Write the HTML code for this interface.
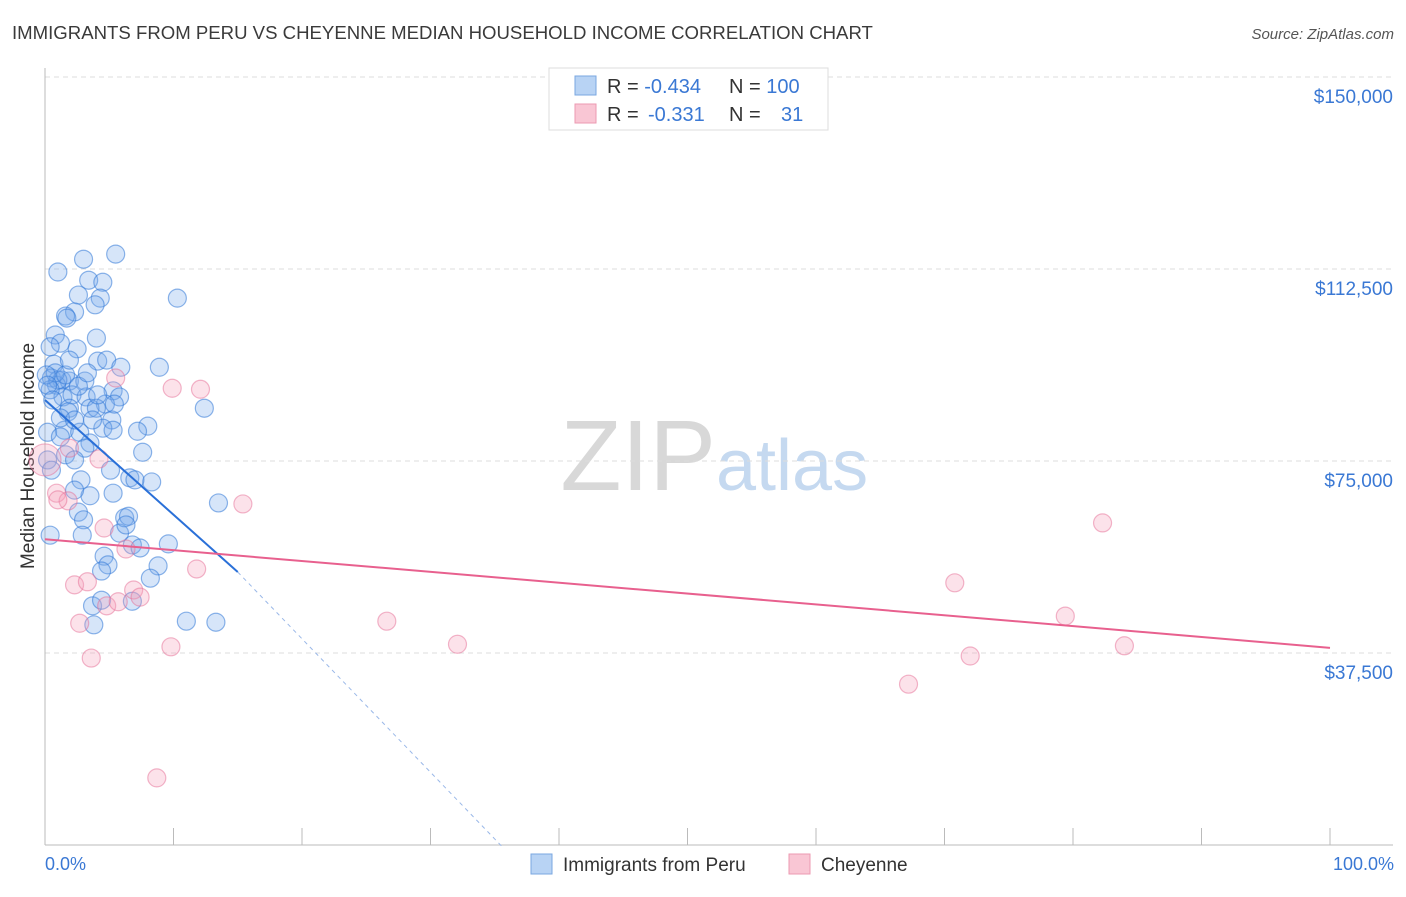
<!DOCTYPE html>
<html><head><meta charset="utf-8"><style>
body{margin:0;background:#fff;font-family:"Liberation Sans",sans-serif}
svg text{font-family:"Liberation Sans",sans-serif}
</style></head><body>
<svg id="c" width="1406" height="892">
<text x="12" y="39" font-size="18.6" fill="#3a3a3a">IMMIGRANTS FROM PERU VS CHEYENNE MEDIAN HOUSEHOLD INCOME CORRELATION CHART</text>
<text x="1394" y="39" font-size="15" fill="#555" text-anchor="end" font-style="italic">Source: ZipAtlas.com</text>
<text x="716" y="490" font-size="100" fill="#d8d8d8" text-anchor="end" font-family="Liberation Serif,serif">ZIP</text>
<text x="716" y="490" font-size="72" fill="#c5d9f0">atlas</text>
<text x="34" y="456" font-size="19" fill="#333" text-anchor="middle" transform="rotate(-90 34 456)">Median Household Income</text>
<g id="grid"></g><g id="pts"></g><g id="lines"></g>
<g>
<rect x="549" y="68" width="279" height="62" fill="#fff" stroke="#ddd"/>
<rect x="575" y="76" width="21" height="19" fill="#b8d3f4" stroke="#7aa7e0"/>
<rect x="575" y="104" width="21" height="19" fill="#f9c6d4" stroke="#ec9ab2"/>
<text x="607" y="93" font-size="20" fill="#333">R = <tspan fill="#3a78d4">-0.434</tspan><tspan x="729">N = </tspan><tspan fill="#3a78d4">100</tspan></text>
<text x="607" y="121" font-size="20" fill="#333">R = <tspan x="648" fill="#3a78d4">-0.331</tspan><tspan x="729">N = </tspan><tspan x="781" fill="#3a78d4">31</tspan></text>
</g>
<g>
<rect x="531" y="854" width="21" height="20" fill="#b8d3f4" stroke="#7aa7e0"/>
<text x="563" y="871" font-size="19" fill="#333">Immigrants from Peru</text>
<rect x="789" y="854" width="21" height="20" fill="#f9c6d4" stroke="#ec9ab2"/>
<text x="821" y="871" font-size="19" fill="#333">Cheyenne</text>
</g>
<text x="45" y="870" font-size="18" fill="#3a78d4">0.0%</text>
<text x="1394" y="870" font-size="18" fill="#3a78d4" text-anchor="end">100.0%</text>
</svg>
<script>
const yTicks=[37500,75000,112500,150000];
const yTickLabels=["$37,500","$75,000","$112,500","$150,000"];
const peruX=[5.5,3.0,1.0,3.4,4.5,2.6,4.3,10.3,3.9,2.3,1.6,1.7,4.0,0.8,1.2,2.5,0.4,4.1,4.8,8.9,5.9,0.7,0.5,1.3,1.9,3.1,0.9,5.3,5.8,1.4,2.1,3.2,4.7,12.4,1.9,3.5,1.8,8.0,7.2,5.2,4.5,1.5,2.7,0.2,1.2,3.5,7.6,3.1,6.6,8.3,5.3,3.5,2.8,2.3,13.5,2.6,3.0,2.9,0.4,5.8,6.2,6.5,6.8,9.6,4.6,4.9,4.4,8.8,8.2,3.7,4.4,6.8,11.0,13.3,3.8,1.0,0.8,0.4,1.6,2.6,3.3,1.9,4.0,1.2,2.3,5.4,4.1,1.6,6.3,7.4,0.2,0.5,0.1,0.2,0.6,2.3,7.0,5.3,3.7,5.1];
const peruY=[115.8,114.8,112.3,110.7,110.3,107.8,107.2,107.2,105.9,104.5,103.7,103.3,99.4,100.0,98.4,97.3,97.7,94.9,95.1,93.7,93.7,94.3,91.6,91.2,91.0,91.0,90.2,89.1,87.9,87.9,88.3,87.9,86.5,85.7,85.7,85.7,85.0,82.2,81.2,83.4,81.8,81.4,81.0,81.0,80.1,78.9,77.1,77.9,72.1,71.3,69.1,68.6,71.7,69.7,67.2,65.4,63.9,60.9,60.9,61.3,64.3,64.6,59.0,59.2,56.8,55.1,53.9,54.9,52.5,47.1,48.2,48.0,44.1,43.9,43.4,91.2,92.6,89.3,92.2,90.0,92.6,95.1,85.7,83.8,83.4,86.5,88.3,76.6,62.9,58.4,75.6,73.6,92.2,90.2,87.3,75.6,71.7,81.4,83.4,73.6];
const cheyX=[5.5,9.9,12.1,0.9,1.8,1.0,4.2,1.9,15.4,82.3,4.6,6.3,11.8,70.8,2.3,3.3,6.9,7.4,4.8,5.7,2.7,26.6,79.4,32.1,9.8,3.6,72.0,84.0,67.2,8.7,0.0];
const cheyY=[91.6,89.6,89.4,69.1,67.6,67.8,75.8,77.9,67.0,63.3,62.3,58.2,54.3,51.6,51.2,51.8,50.2,48.8,47.1,47.9,43.7,44.1,45.1,39.6,39.1,36.9,37.3,39.3,31.8,13.5,75.6];
const peruTrend=[[0,87.3],[15,53.7]];
const peruTrendExt=[[15,53.7],[35.6,0]];
const cheyTrend=[[0,60.1],[100,38.9]];
const NS='http://www.w3.org/2000/svg';
const sx=v=>45+v*12.85;
const sy=v=>847-v*1000/37500*192;
function mk(t,a,p){const e=document.createElementNS(NS,t);for(const k in a)e.setAttribute(k,a[k]);p.appendChild(e);return e;}
const grid=document.getElementById('grid');
yTicks.forEach((v,i)=>{
 const l=mk('line',{x1:45,x2:1393,y1:sy(v/1000)-2,y2:sy(v/1000)-2,stroke:'#ddd','stroke-dasharray':'5,4'},grid);
 
 
 const t=mk('text',{x:1393,y:sy(v/1000)+24,'font-size':19,fill:'#3a78d4','text-anchor':'end'},grid);
 t.textContent=yTickLabels[i];
 
 
});
mk('line',{x1:45,x2:45,y1:68,y2:845,stroke:'#bbb'},grid);
mk('line',{x1:45,x2:1393,y1:845,y2:845,stroke:'#bbb'},grid);
for(let i=0;i<=10;i++){const t=mk('line',{x1:sx(i*10),x2:sx(i*10),y1:828,y2:845,stroke:'#bbb'},grid);
 
 }
const pts=document.getElementById('pts');
for(let i=0;i<Math.min(peruX.length,peruY.length);i++){
 const c=mk('circle',{cx:sx(peruX[i]),cy:sy(peruY[i]),r:9,fill:'rgba(120,170,235,0.3)',stroke:'rgba(50,120,215,0.55)','stroke-width':1.2},pts);
 
 
}
for(let i=0;i<Math.min(cheyX.length,cheyY.length);i++){
 const big=cheyX[i]===0;
 const c=mk('circle',{cx:sx(cheyX[i]),cy:sy(cheyY[i]),r:big?16:9,fill:'rgba(245,160,185,0.3)',stroke:'rgba(230,110,150,0.5)','stroke-width':1.2},pts);
 
 
}
const lines=document.getElementById('lines');
let l=mk('line',{x1:sx(peruTrend[0][0]),y1:sy(peruTrend[0][1]),x2:sx(peruTrend[1][0]),y2:sy(peruTrend[1][1]),stroke:'#2a70d8','stroke-width':2},lines);


l=mk('line',{x1:sx(peruTrendExt[0][0]),y1:sy(peruTrendExt[0][1]),x2:sx(peruTrendExt[1][0]),y2:sy(peruTrendExt[1][1]),stroke:'#9ab8e8','stroke-width':1,'stroke-dasharray':'4,4'},lines);


l=mk('line',{x1:sx(cheyTrend[0][0]),y1:sy(cheyTrend[0][1]),x2:sx(cheyTrend[1][0]),y2:sy(cheyTrend[1][1]),stroke:'#e8608e','stroke-width':2},lines);


</script>
</body></html>
